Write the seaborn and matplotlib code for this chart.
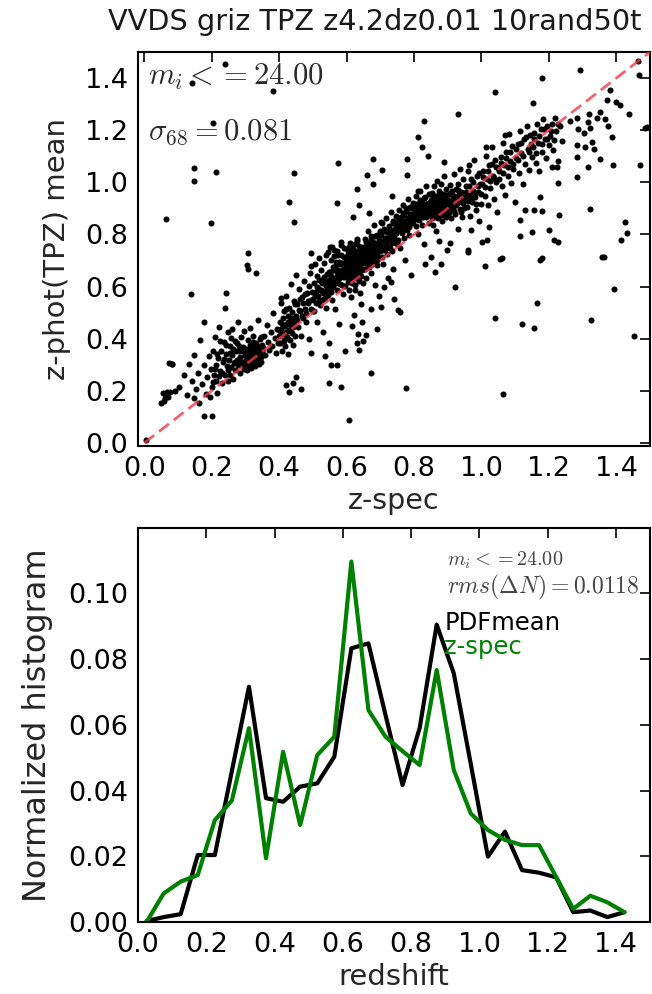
import matplotlib
matplotlib.use("Agg")
import matplotlib.pyplot as plt
import seaborn as sns

TITLE = "VVDS griz TPZ z4.2dz0.01 10rand50t"

# ---- top panel: z-spec vs z-phot (TPZ) mean ----
core_points = [
    (0.005, 0.012),
    (0.051, 0.152), (0.056, 0.191), (0.058, 0.162), (0.061, 0.171), (0.064, 0.181),
    (0.066, 0.197), (0.071, 0.175), (0.074, 0.308), (0.076, 0.197), (0.081, 0.303),
    (0.083, 0.302), (0.092, 0.198),
    (0.104, 0.214), (0.118, 0.262), (0.126, 0.185), (0.133, 0.301), (0.141, 0.236),
    (0.147, 0.172), (0.149, 0.338),
    (0.152, 0.205), (0.158, 0.268), (0.161, 0.152), (0.166, 0.395), (0.170, 0.225),
    (0.176, 0.465), (0.178, 0.298), (0.183, 0.188), (0.187, 0.251), (0.191, 0.332),
    (0.195, 0.176), (0.198, 0.283),
    (0.202, 0.214), (0.204, 0.352), (0.207, 0.262), (0.209, 0.405), (0.212, 0.238),
    (0.214, 0.298), (0.217, 0.191), (0.219, 0.325), (0.222, 0.446), (0.225, 0.276),
    (0.228, 0.354), (0.231, 0.228), (0.233, 0.312), (0.236, 0.388), (0.239, 0.259),
    (0.242, 0.341), (0.245, 0.295), (0.247, 0.425), (0.249, 0.236),
    (0.251, 0.318), (0.253, 0.262), (0.255, 0.372), (0.257, 0.291), (0.259, 0.436),
    (0.261, 0.338), (0.263, 0.245), (0.265, 0.305), (0.268, 0.392), (0.270, 0.279),
    (0.272, 0.351), (0.274, 0.318), (0.277, 0.462), (0.279, 0.298), (0.281, 0.372),
    (0.283, 0.331), (0.285, 0.268), (0.287, 0.405), (0.290, 0.312), (0.292, 0.352),
    (0.295, 0.285), (0.297, 0.428), (0.299, 0.336),
    (0.301, 0.322), (0.302, 0.362), (0.303, 0.298), (0.305, 0.345), (0.306, 0.278),
    (0.307, 0.395), (0.309, 0.331), (0.310, 0.312), (0.312, 0.352), (0.313, 0.441),
    (0.315, 0.325), (0.316, 0.288), (0.318, 0.368), (0.319, 0.338), (0.321, 0.305),
    (0.322, 0.412), (0.324, 0.348), (0.325, 0.321), (0.327, 0.372), (0.328, 0.295),
    (0.330, 0.341), (0.331, 0.385), (0.333, 0.318), (0.334, 0.355), (0.336, 0.472),
    (0.337, 0.332), (0.339, 0.302), (0.340, 0.362), (0.342, 0.345), (0.343, 0.398),
    (0.345, 0.328), (0.346, 0.311), (0.348, 0.375), (0.349, 0.352),
    (0.352, 0.365), (0.356, 0.412), (0.359, 0.338), (0.363, 0.452), (0.367, 0.388),
    (0.371, 0.355), (0.375, 0.425), (0.379, 0.372), (0.383, 0.498), (0.387, 0.401),
    (0.391, 0.345), (0.395, 0.438), (0.398, 0.382),
    (0.401, 0.412), (0.402, 0.462), (0.404, 0.385), (0.405, 0.535), (0.407, 0.438),
    (0.408, 0.352), (0.410, 0.478), (0.411, 0.418), (0.413, 0.395), (0.414, 0.505),
    (0.416, 0.448), (0.417, 0.372), (0.419, 0.425), (0.420, 0.562), (0.422, 0.458),
    (0.423, 0.405), (0.425, 0.488), (0.426, 0.342), (0.428, 0.435), (0.429, 0.518),
    (0.431, 0.468), (0.432, 0.395), (0.434, 0.452), (0.436, 0.608), (0.437, 0.422),
    (0.439, 0.481), (0.441, 0.375), (0.442, 0.445), (0.444, 0.545), (0.446, 0.412),
    (0.448, 0.472), (0.449, 0.252),
    (0.451, 0.485), (0.454, 0.532), (0.457, 0.445), (0.460, 0.592), (0.463, 0.505),
    (0.466, 0.412), (0.469, 0.558), (0.472, 0.478), (0.475, 0.622), (0.478, 0.515),
    (0.481, 0.462), (0.484, 0.575), (0.487, 0.535), (0.490, 0.398), (0.493, 0.652),
    (0.496, 0.548), (0.499, 0.505),
    (0.501, 0.552), (0.503, 0.612), (0.504, 0.505), (0.506, 0.685), (0.508, 0.578),
    (0.509, 0.538), (0.511, 0.642), (0.513, 0.465), (0.514, 0.595), (0.516, 0.562),
    (0.518, 0.708), (0.519, 0.625), (0.521, 0.528), (0.523, 0.588), (0.524, 0.665),
    (0.526, 0.548), (0.528, 0.612), (0.529, 0.425), (0.531, 0.575), (0.533, 0.638),
    (0.534, 0.692), (0.536, 0.555), (0.538, 0.602), (0.539, 0.518), (0.541, 0.648),
    (0.543, 0.585), (0.545, 0.732), (0.546, 0.568), (0.548, 0.625), (0.549, 0.382),
    (0.551, 0.612), (0.552, 0.655), (0.554, 0.578), (0.555, 0.702), (0.557, 0.632),
    (0.558, 0.548), (0.560, 0.675), (0.561, 0.598), (0.563, 0.742), (0.564, 0.625),
    (0.566, 0.662), (0.567, 0.515), (0.569, 0.695), (0.570, 0.612), (0.572, 0.645),
    (0.573, 0.585), (0.575, 0.722), (0.576, 0.665), (0.578, 0.632), (0.579, 0.458),
    (0.581, 0.685), (0.582, 0.608), (0.584, 0.758), (0.585, 0.652), (0.587, 0.692),
    (0.588, 0.572), (0.590, 0.638), (0.591, 0.715), (0.593, 0.665), (0.594, 0.352),
    (0.596, 0.602), (0.597, 0.682), (0.599, 0.648),
    (0.601, 0.652), (0.602, 0.698), (0.603, 0.618), (0.604, 0.735), (0.605, 0.672),
    (0.606, 0.588), (0.607, 0.645), (0.608, 0.712), (0.609, 0.662), (0.610, 0.625),
    (0.611, 0.768), (0.612, 0.685), (0.613, 0.642), (0.614, 0.558), (0.615, 0.702),
    (0.616, 0.668), (0.617, 0.612), (0.618, 0.745), (0.619, 0.678), (0.620, 0.638),
    (0.621, 0.722), (0.622, 0.655), (0.623, 0.492), (0.624, 0.692), (0.625, 0.662),
    (0.626, 0.605), (0.627, 0.738), (0.628, 0.675), (0.629, 0.632), (0.630, 0.782),
    (0.631, 0.695), (0.632, 0.648), (0.633, 0.418), (0.634, 0.712), (0.635, 0.668),
    (0.636, 0.622), (0.637, 0.755), (0.638, 0.685), (0.639, 0.575), (0.640, 0.702),
    (0.641, 0.658), (0.642, 0.728), (0.643, 0.642), (0.644, 0.685), (0.645, 0.465),
    (0.646, 0.718), (0.647, 0.668), (0.648, 0.612), (0.649, 0.752), (0.641, 0.692),
    (0.636, 0.708), (0.627, 0.688), (0.618, 0.702), (0.612, 0.728), (0.607, 0.672),
    (0.624, 0.585), (0.644, 0.532), (0.631, 0.385), (0.648, 0.392), (0.616, 0.448),
    (0.651, 0.702), (0.652, 0.745), (0.654, 0.668), (0.655, 0.782), (0.657, 0.718),
    (0.658, 0.632), (0.660, 0.758), (0.661, 0.692), (0.663, 0.735), (0.664, 0.812),
    (0.666, 0.708), (0.667, 0.675), (0.669, 0.765), (0.670, 0.728), (0.672, 0.652),
    (0.673, 0.795), (0.675, 0.742), (0.676, 0.705), (0.678, 0.772), (0.679, 0.688),
    (0.681, 0.738), (0.682, 0.835), (0.684, 0.715), (0.685, 0.605), (0.687, 0.762),
    (0.688, 0.725), (0.690, 0.682), (0.691, 0.798), (0.693, 0.748), (0.694, 0.712),
    (0.696, 0.565), (0.697, 0.778), (0.699, 0.735), (0.672, 0.512), (0.689, 0.438),
    (0.657, 0.414),
    (0.701, 0.752), (0.703, 0.798), (0.704, 0.715), (0.706, 0.842), (0.708, 0.772),
    (0.709, 0.688), (0.711, 0.812), (0.713, 0.745), (0.714, 0.785), (0.716, 0.862),
    (0.718, 0.758), (0.719, 0.725), (0.721, 0.808), (0.723, 0.775), (0.724, 0.632),
    (0.726, 0.832), (0.728, 0.792), (0.729, 0.748), (0.731, 0.885), (0.733, 0.815),
    (0.734, 0.768), (0.736, 0.738), (0.738, 0.845), (0.739, 0.798), (0.741, 0.552),
    (0.743, 0.822), (0.744, 0.778), (0.746, 0.872), (0.748, 0.805), (0.749, 0.762),
    (0.712, 0.598), (0.737, 0.668),
    (0.751, 0.812), (0.753, 0.852), (0.754, 0.778), (0.756, 0.895), (0.758, 0.828),
    (0.759, 0.748), (0.761, 0.868), (0.763, 0.805), (0.764, 0.842), (0.766, 0.912),
    (0.768, 0.818), (0.769, 0.785), (0.771, 0.875), (0.773, 0.838), (0.774, 0.702),
    (0.776, 0.888), (0.778, 0.852), (0.779, 0.815), (0.781, 0.935), (0.783, 0.862),
    (0.784, 0.828), (0.786, 0.798), (0.788, 0.905), (0.789, 0.858), (0.791, 0.645),
    (0.793, 0.878), (0.794, 0.842), (0.796, 0.922), (0.798, 0.868),
    (0.801, 0.862), (0.803, 0.905), (0.805, 0.832), (0.807, 0.948), (0.809, 0.878),
    (0.811, 0.802), (0.813, 0.918), (0.815, 0.855), (0.817, 0.892), (0.819, 0.965),
    (0.821, 0.872), (0.823, 0.838), (0.825, 0.925), (0.827, 0.885), (0.829, 0.762),
    (0.831, 0.938), (0.833, 0.898), (0.835, 0.865), (0.837, 0.985), (0.839, 0.912),
    (0.841, 0.878), (0.843, 0.845), (0.845, 0.955), (0.847, 0.902), (0.849, 0.712),
    (0.812, 0.968),
    (0.851, 0.892), (0.852, 0.925), (0.853, 0.862), (0.854, 0.958), (0.855, 0.905),
    (0.856, 0.838), (0.857, 0.942), (0.858, 0.878), (0.859, 0.912), (0.860, 0.985),
    (0.861, 0.895), (0.862, 0.868), (0.863, 0.935), (0.864, 0.902), (0.865, 0.812),
    (0.866, 0.948), (0.867, 0.918), (0.868, 0.885), (0.869, 1.005), (0.870, 0.928),
    (0.871, 0.895), (0.872, 0.862), (0.873, 0.965), (0.874, 0.912), (0.875, 0.775),
    (0.876, 0.938), (0.877, 0.902), (0.878, 0.875), (0.879, 0.992), (0.880, 0.925),
    (0.882, 0.892), (0.883, 0.852), (0.885, 0.955), (0.886, 0.915), (0.888, 0.882),
    (0.889, 1.025), (0.891, 0.942), (0.892, 0.905), (0.894, 0.868), (0.895, 0.975),
    (0.897, 0.922), (0.899, 0.742),
    (0.901, 0.912), (0.903, 0.955), (0.905, 0.885), (0.907, 0.988), (0.909, 0.925),
    (0.911, 0.862), (0.913, 0.968), (0.915, 0.905), (0.917, 0.942), (0.919, 1.032),
    (0.921, 0.918), (0.923, 0.878), (0.925, 0.975), (0.927, 0.935), (0.929, 0.822),
    (0.931, 0.995), (0.933, 0.952), (0.935, 0.898), (0.937, 1.052), (0.939, 0.962),
    (0.941, 0.925), (0.943, 0.868), (0.945, 1.012), (0.947, 0.945), (0.949, 0.902),
    (0.952, 0.938), (0.955, 0.985), (0.958, 0.905), (0.961, 1.045), (0.964, 0.952),
    (0.967, 0.872), (0.970, 1.012), (0.973, 0.925), (0.976, 0.968), (0.979, 1.085),
    (0.982, 0.942), (0.985, 0.895), (0.988, 1.025), (0.991, 0.962), (0.994, 0.852),
    (0.997, 0.995), (0.999, 0.918), (0.968, 0.815),
    (1.003, 0.995), (1.006, 1.045), (1.010, 0.948), (1.013, 1.102), (1.016, 1.012),
    (1.020, 0.912), (1.023, 1.068), (1.026, 0.978), (1.030, 1.135), (1.033, 1.025),
    (1.036, 0.935), (1.040, 1.085), (1.043, 1.002), (1.046, 0.885), (1.049, 1.055),
    (1.053, 1.042), (1.057, 1.098), (1.060, 0.985), (1.064, 1.152), (1.067, 1.065),
    (1.071, 0.952), (1.074, 1.118), (1.078, 1.025), (1.081, 1.185), (1.085, 1.082),
    (1.088, 0.998), (1.092, 1.138), (1.095, 1.052), (1.099, 0.925),
    (1.103, 1.092), (1.107, 1.148), (1.111, 1.035), (1.115, 1.195), (1.118, 1.112),
    (1.122, 0.995), (1.126, 1.165), (1.130, 1.072), (1.134, 1.215), (1.138, 1.128),
    (1.142, 1.048), (1.145, 1.182), (1.149, 1.098),
    (1.153, 1.135), (1.157, 1.188), (1.161, 1.075), (1.164, 1.225), (1.168, 1.152),
    (1.172, 1.045), (1.176, 1.205), (1.180, 1.118), (1.184, 1.242), (1.188, 1.168),
    (1.191, 1.092), (1.195, 1.215), (1.199, 1.142),
    (1.204, 1.178), (1.209, 1.225), (1.213, 1.122), (1.218, 1.248), (1.222, 1.195),
    (1.227, 1.082), (1.233, 1.215), (1.240, 1.158),
    (1.262, 1.235), (1.285, 1.205), (1.305, 1.188), (1.318, 1.262), (1.335, 1.128),
    (1.342, 1.245), (1.365, 1.242), (1.372, 1.315), (1.388, 1.172), (1.412, 1.295),
    (1.438, 1.262),
]

# extra galaxies in the crowded parts of the cloud
dense_points = [
    (0.3015, 0.338), (0.3045, 0.315), (0.3075, 0.358), (0.3105, 0.292), (0.3135, 0.375),
    (0.3165, 0.345), (0.3195, 0.322), (0.3225, 0.388), (0.3255, 0.336), (0.3285, 0.358),
    (0.3315, 0.302), (0.3345, 0.372), (0.3375, 0.345), (0.3405, 0.318), (0.3435, 0.362),
    (0.3465, 0.405), (0.3495, 0.338),
    (0.205, 0.232), (0.211, 0.285), (0.216, 0.342), (0.221, 0.255), (0.226, 0.392),
    (0.232, 0.268), (0.237, 0.322), (0.243, 0.375), (0.248, 0.278), (0.254, 0.345),
    (0.258, 0.402), (0.264, 0.362), (0.269, 0.312), (0.276, 0.385), (0.282, 0.352),
    (0.288, 0.298), (0.294, 0.368),
    (0.403, 0.428), (0.409, 0.455), (0.415, 0.392), (0.421, 0.515), (0.427, 0.462),
    (0.433, 0.428), (0.438, 0.502), (0.443, 0.465), (0.447, 0.532), (0.453, 0.472),
    (0.458, 0.508), (0.462, 0.552), (0.467, 0.488), (0.471, 0.535), (0.476, 0.572),
    (0.480, 0.498), (0.485, 0.545), (0.489, 0.602), (0.494, 0.512), (0.498, 0.578),
    (0.505, 0.565), (0.512, 0.598), (0.517, 0.545), (0.522, 0.625), (0.527, 0.582),
    (0.532, 0.552), (0.537, 0.618), (0.542, 0.602), (0.547, 0.655),
    (0.553, 0.642), (0.556, 0.598), (0.559, 0.662), (0.562, 0.718), (0.565, 0.612),
    (0.568, 0.682), (0.571, 0.735), (0.574, 0.628), (0.577, 0.695), (0.580, 0.652),
    (0.583, 0.722), (0.586, 0.605), (0.589, 0.668), (0.592, 0.748), (0.595, 0.635),
    (0.598, 0.705),
    (0.6005, 0.682), (0.6035, 0.725), (0.6065, 0.635), (0.6095, 0.692), (0.6125, 0.752),
    (0.6155, 0.648), (0.6185, 0.715), (0.6215, 0.678), (0.6245, 0.762), (0.6275, 0.655),
    (0.6305, 0.722), (0.6335, 0.685), (0.6365, 0.645), (0.6395, 0.738), (0.6425, 0.698),
    (0.6455, 0.662), (0.6485, 0.728),
    (0.653, 0.725), (0.656, 0.692), (0.659, 0.772), (0.662, 0.715), (0.665, 0.748),
    (0.668, 0.698), (0.671, 0.782), (0.674, 0.722), (0.677, 0.752), (0.680, 0.712),
    (0.683, 0.792), (0.686, 0.745), (0.689, 0.702), (0.692, 0.768), (0.695, 0.735),
    (0.698, 0.812),
    (0.702, 0.775), (0.707, 0.742), (0.712, 0.822), (0.717, 0.785), (0.722, 0.752),
    (0.727, 0.812), (0.732, 0.778), (0.737, 0.852), (0.742, 0.795), (0.747, 0.835),
    (0.752, 0.835), (0.757, 0.862), (0.762, 0.822), (0.767, 0.882), (0.772, 0.852),
    (0.777, 0.902), (0.782, 0.838), (0.787, 0.878), (0.792, 0.902), (0.797, 0.852),
    (0.802, 0.885), (0.806, 0.918), (0.810, 0.858), (0.814, 0.895), (0.818, 0.932),
    (0.822, 0.905), (0.826, 0.865), (0.830, 0.915), (0.834, 0.945), (0.838, 0.882),
    (0.842, 0.922), (0.846, 0.875), (0.8495, 0.932),
    (0.8515, 0.908), (0.8545, 0.878), (0.8575, 0.925), (0.8605, 0.948), (0.8635, 0.885),
    (0.8665, 0.915), (0.8695, 0.872), (0.8725, 0.935), (0.8755, 0.895), (0.8785, 0.958),
    (0.8815, 0.908), (0.8845, 0.875), (0.8875, 0.932), (0.8905, 0.892), (0.8935, 0.952),
    (0.8965, 0.905), (0.8995, 0.878),
    (0.902, 0.932), (0.906, 0.902), (0.910, 0.958), (0.914, 0.925), (0.918, 0.888),
    (0.922, 0.948), (0.926, 0.912), (0.930, 0.972), (0.934, 0.925), (0.938, 0.885),
    (0.942, 0.945), (0.946, 0.922),
    (0.954, 0.962), (0.959, 0.928), (0.963, 0.985), (0.969, 0.945), (0.974, 1.002),
    (0.978, 0.958), (0.984, 0.918), (0.989, 0.985), (0.993, 1.035), (0.998, 0.955),
    (1.004, 1.022), (1.011, 0.982), (1.018, 1.045), (1.024, 1.005), (1.031, 1.072),
    (1.038, 1.018), (1.044, 1.058), (1.051, 1.012), (1.058, 1.075), (1.065, 1.035),
    (1.072, 1.095), (1.079, 1.058), (1.086, 1.115), (1.093, 1.072), (1.101, 1.128),
    (1.109, 1.085), (1.116, 1.152), (1.124, 1.102), (1.132, 1.172), (1.140, 1.118),
    (1.147, 1.145), (1.156, 1.165), (1.163, 1.112), (1.171, 1.178), (1.179, 1.145),
    (1.186, 1.205), (1.194, 1.168), (1.207, 1.198), (1.216, 1.162), (1.226, 1.225),
]

outlier_points = [
    (0.238, 1.455), (0.143, 1.380), (0.383, 1.351), (0.204, 1.229), (0.148, 1.054),
    (0.148, 1.005), (0.212, 1.041), (0.445, 1.037), (0.430, 0.926), (0.445, 0.849),
    (0.064, 0.858), (0.199, 0.843), (0.574, 1.073), (0.677, 1.090), (0.706, 1.048),
    (0.660, 1.028), (0.679, 0.994), (0.630, 0.975), (0.573, 0.922), (0.637, 0.913),
    (0.667, 0.884), (0.620, 0.868), (0.701, 0.849), (0.583, 0.772), (0.608, 0.753),
    (0.632, 0.776), (0.552, 0.751), (0.494, 0.728), (0.307, 0.728), (0.539, 0.721),
    (1.463, 1.467), (1.467, 1.412), (1.293, 1.431), (1.179, 1.399), (1.041, 1.348),
    (1.152, 1.303), (1.381, 1.355), (1.398, 1.307), (1.352, 1.268), (1.376, 1.216),
    (1.317, 1.233), (1.322, 1.208), (1.283, 1.246), (0.931, 1.262), (0.829, 1.236),
    (0.813, 1.175), (0.825, 1.137), (0.842, 1.099), (0.780, 1.089), (0.780, 1.028),
    (0.736, 0.948), (0.889, 1.076), (0.962, 1.067), (1.014, 1.137), (1.071, 1.182),
    (1.283, 1.144), (1.307, 1.135), (1.327, 1.156), (1.283, 1.096), (1.352, 1.089),
    (1.391, 1.067), (1.470, 1.067), (1.317, 1.058), (1.283, 1.022), (1.228, 0.999),
    (1.209, 1.060), (1.223, 1.060), (1.485, 1.208), (1.490, 1.212), (1.322, 0.897),
    (1.231, 0.875), (1.179, 0.888), (1.155, 0.894), (1.130, 0.894), (1.174, 0.945),
    (1.115, 0.856), (1.150, 0.811), (1.115, 0.794), (1.199, 0.817), (1.214, 0.779),
    (1.228, 0.772), (1.426, 0.849), (1.433, 0.807), (1.414, 0.779), (1.357, 0.715),
    (1.061, 0.709), (1.179, 0.709), (0.960, 0.741), (1.022, 0.830), (1.017, 0.780),
    (0.775, 0.212), (1.063, 0.188), (0.753, 0.510), (0.759, 0.503), (0.923, 0.600),
    (0.832, 0.687), (0.879, 0.687), (0.862, 0.654), (1.010, 0.679), (1.056, 0.705),
    (1.174, 0.700), (1.166, 0.536), (1.039, 0.478), (1.120, 0.457), (1.157, 0.440),
    (1.324, 0.472), (1.394, 0.590), (1.362, 0.713), (1.453, 0.411), (0.960, 0.734),
    (0.908, 0.766), (1.002, 0.769), (0.731, 0.619),
    (0.304, 0.683), (0.307, 0.667), (0.330, 0.651), (0.140, 0.572), (0.241, 0.574),
    (0.238, 0.517), (0.176, 0.105), (0.201, 0.105), (0.606, 0.086), (0.672, 0.270),
    (0.583, 0.216), (0.547, 0.231), (0.465, 0.206), (0.430, 0.197), (0.421, 0.223),
    (0.441, 0.228), (0.406, 0.555), (0.494, 0.679), (0.450, 0.645), (0.558, 0.753),
    (0.553, 0.299), (0.573, 0.299), (0.701, 0.523), (0.637, 0.357), (0.537, 0.334),
    (0.494, 0.344),
]

# ---- bottom panel: normalized histograms ----
z_bins = [0.025, 0.075, 0.125, 0.175, 0.225, 0.275, 0.325, 0.375, 0.425, 0.475,
          0.525, 0.575, 0.625, 0.675, 0.725, 0.775, 0.825, 0.875, 0.925, 0.975,
          1.025, 1.075, 1.125, 1.175, 1.225, 1.275, 1.325, 1.375, 1.425]
pdf_mean = [0.0003, 0.0015, 0.0024, 0.0204, 0.0204, 0.0460, 0.0716, 0.0377, 0.0366,
            0.0412, 0.0422, 0.0503, 0.0833, 0.0848, 0.0630, 0.0417, 0.0590, 0.0905,
            0.0757, 0.0480, 0.0199, 0.0275, 0.0158, 0.0150, 0.0136, 0.0030, 0.0035,
            0.0015, 0.0030]
z_spec_hist = [0.0000, 0.0087, 0.0123, 0.0143, 0.0310, 0.0370, 0.0590, 0.0194, 0.0518,
               0.0295, 0.0508, 0.0564, 0.1097, 0.0645, 0.0564, 0.0520, 0.0478, 0.0767,
               0.0463, 0.0330, 0.0280, 0.0250, 0.0234, 0.0234, 0.0137, 0.0040, 0.0080,
               0.0060, 0.0030]

sigma68 = 0.081
rms_dn = 0.0118
mag_cut = 24.00

# ---- style ----
sns.set_style("white")
plt.rcParams.update({
    "font.family": ["DejaVu Sans"],
    "mathtext.fontset": "cm",
    "axes.edgecolor": "black",
    "axes.linewidth": 1.5,
    "xtick.direction": "in",
    "ytick.direction": "in",
    "xtick.top": True,
    "ytick.right": True,
    "xtick.color": "black",
    "ytick.color": "black",
})

fig = plt.figure(figsize=(6.52, 9.94), dpi=100)
ax1 = fig.add_axes([0.2109, 0.5513, 0.7861, 0.3964])
ax2 = fig.add_axes([0.2117, 0.0724, 0.7853, 0.3967])

fig.text(108 / 652, 1 - 30 / 994, TITLE, fontsize=20.7, ha="left", va="baseline",
         color="#1a1a1a")

zs, zp = zip(*(core_points + dense_points + outlier_points))
sns.scatterplot(x=list(zs), y=list(zp), ax=ax1, color="black", s=19, linewidth=0,
                zorder=2)
ax1.plot([0, 1.5], [0, 1.5], color="#f03c4a", alpha=0.8, lw=2, dashes=(4.5, 2.2),
         zorder=3)
ax1.set_xlim(-0.02, 1.5)
ax1.set_ylim(-0.012, 1.5)
ax1.set_xticks([0.0, 0.2, 0.4, 0.6, 0.8, 1.0, 1.2, 1.4])
ax1.set_yticks([0.0, 0.2, 0.4, 0.6, 0.8, 1.0, 1.2, 1.4])
ax1.set_xlabel("z-spec", fontsize=20.5, labelpad=4)
ax1.set_ylabel("z-phot(TPZ) mean", fontsize=21, labelpad=10)
ax1.text(0.02, 0.916, r"$m_i <= %.2f$" % mag_cut, transform=ax1.transAxes,
         fontsize=22, color="#2a2a2a", va="baseline")
ax1.text(0.02, 0.777, r"$\sigma_{68} = %.3f$" % sigma68, transform=ax1.transAxes,
         fontsize=22, color="#2a2a2a", va="baseline")

sns.lineplot(x=z_bins, y=pdf_mean, ax=ax2, color="black", lw=3, label="PDFmean")
sns.lineplot(x=z_bins, y=z_spec_hist, ax=ax2, color="green", lw=3, label="z-spec")
ax2.set_xlim(0, 1.5)
ax2.set_ylim(0, 0.12)
ax2.set_xticks([0.0, 0.2, 0.4, 0.6, 0.8, 1.0, 1.2, 1.4])
ax2.set_yticks([0.0, 0.02, 0.04, 0.06, 0.08, 0.10])
ax2.set_xlabel("redshift", fontsize=21, labelpad=4)
ax2.set_ylabel("Normalized histogram", fontsize=23, labelpad=11)
ax2.text(0.603, 0.903, r"$m_i <= %.2f$" % mag_cut, transform=ax2.transAxes,
         fontsize=14.5, color="#444444", va="baseline")
ax2.text(0.603, 0.834, r"$rms(\Delta N) = %.4f$" % rms_dn, transform=ax2.transAxes,
         fontsize=17, color="#444444", va="baseline")
leg = ax2.legend(loc="upper left", bbox_to_anchor=(0.598, 0.79), frameon=False,
                 handlelength=0, handletextpad=0, borderpad=0, borderaxespad=0,
                 labelspacing=0.0, fontsize=17.5)
for h, t, c in zip(leg.legend_handles, leg.get_texts(), ["black", "green"]):
    h.set_visible(False)
    t.set_color(c)

for ax in (ax1, ax2):
    ax.tick_params(axis="both", which="major", labelsize=19.5, length=7, width=1.2,
                   pad=7)
    for sp in ax.spines.values():
        sp.set_visible(True)
        sp.set_color("black")

fig.savefig("out.png", dpi=100)
